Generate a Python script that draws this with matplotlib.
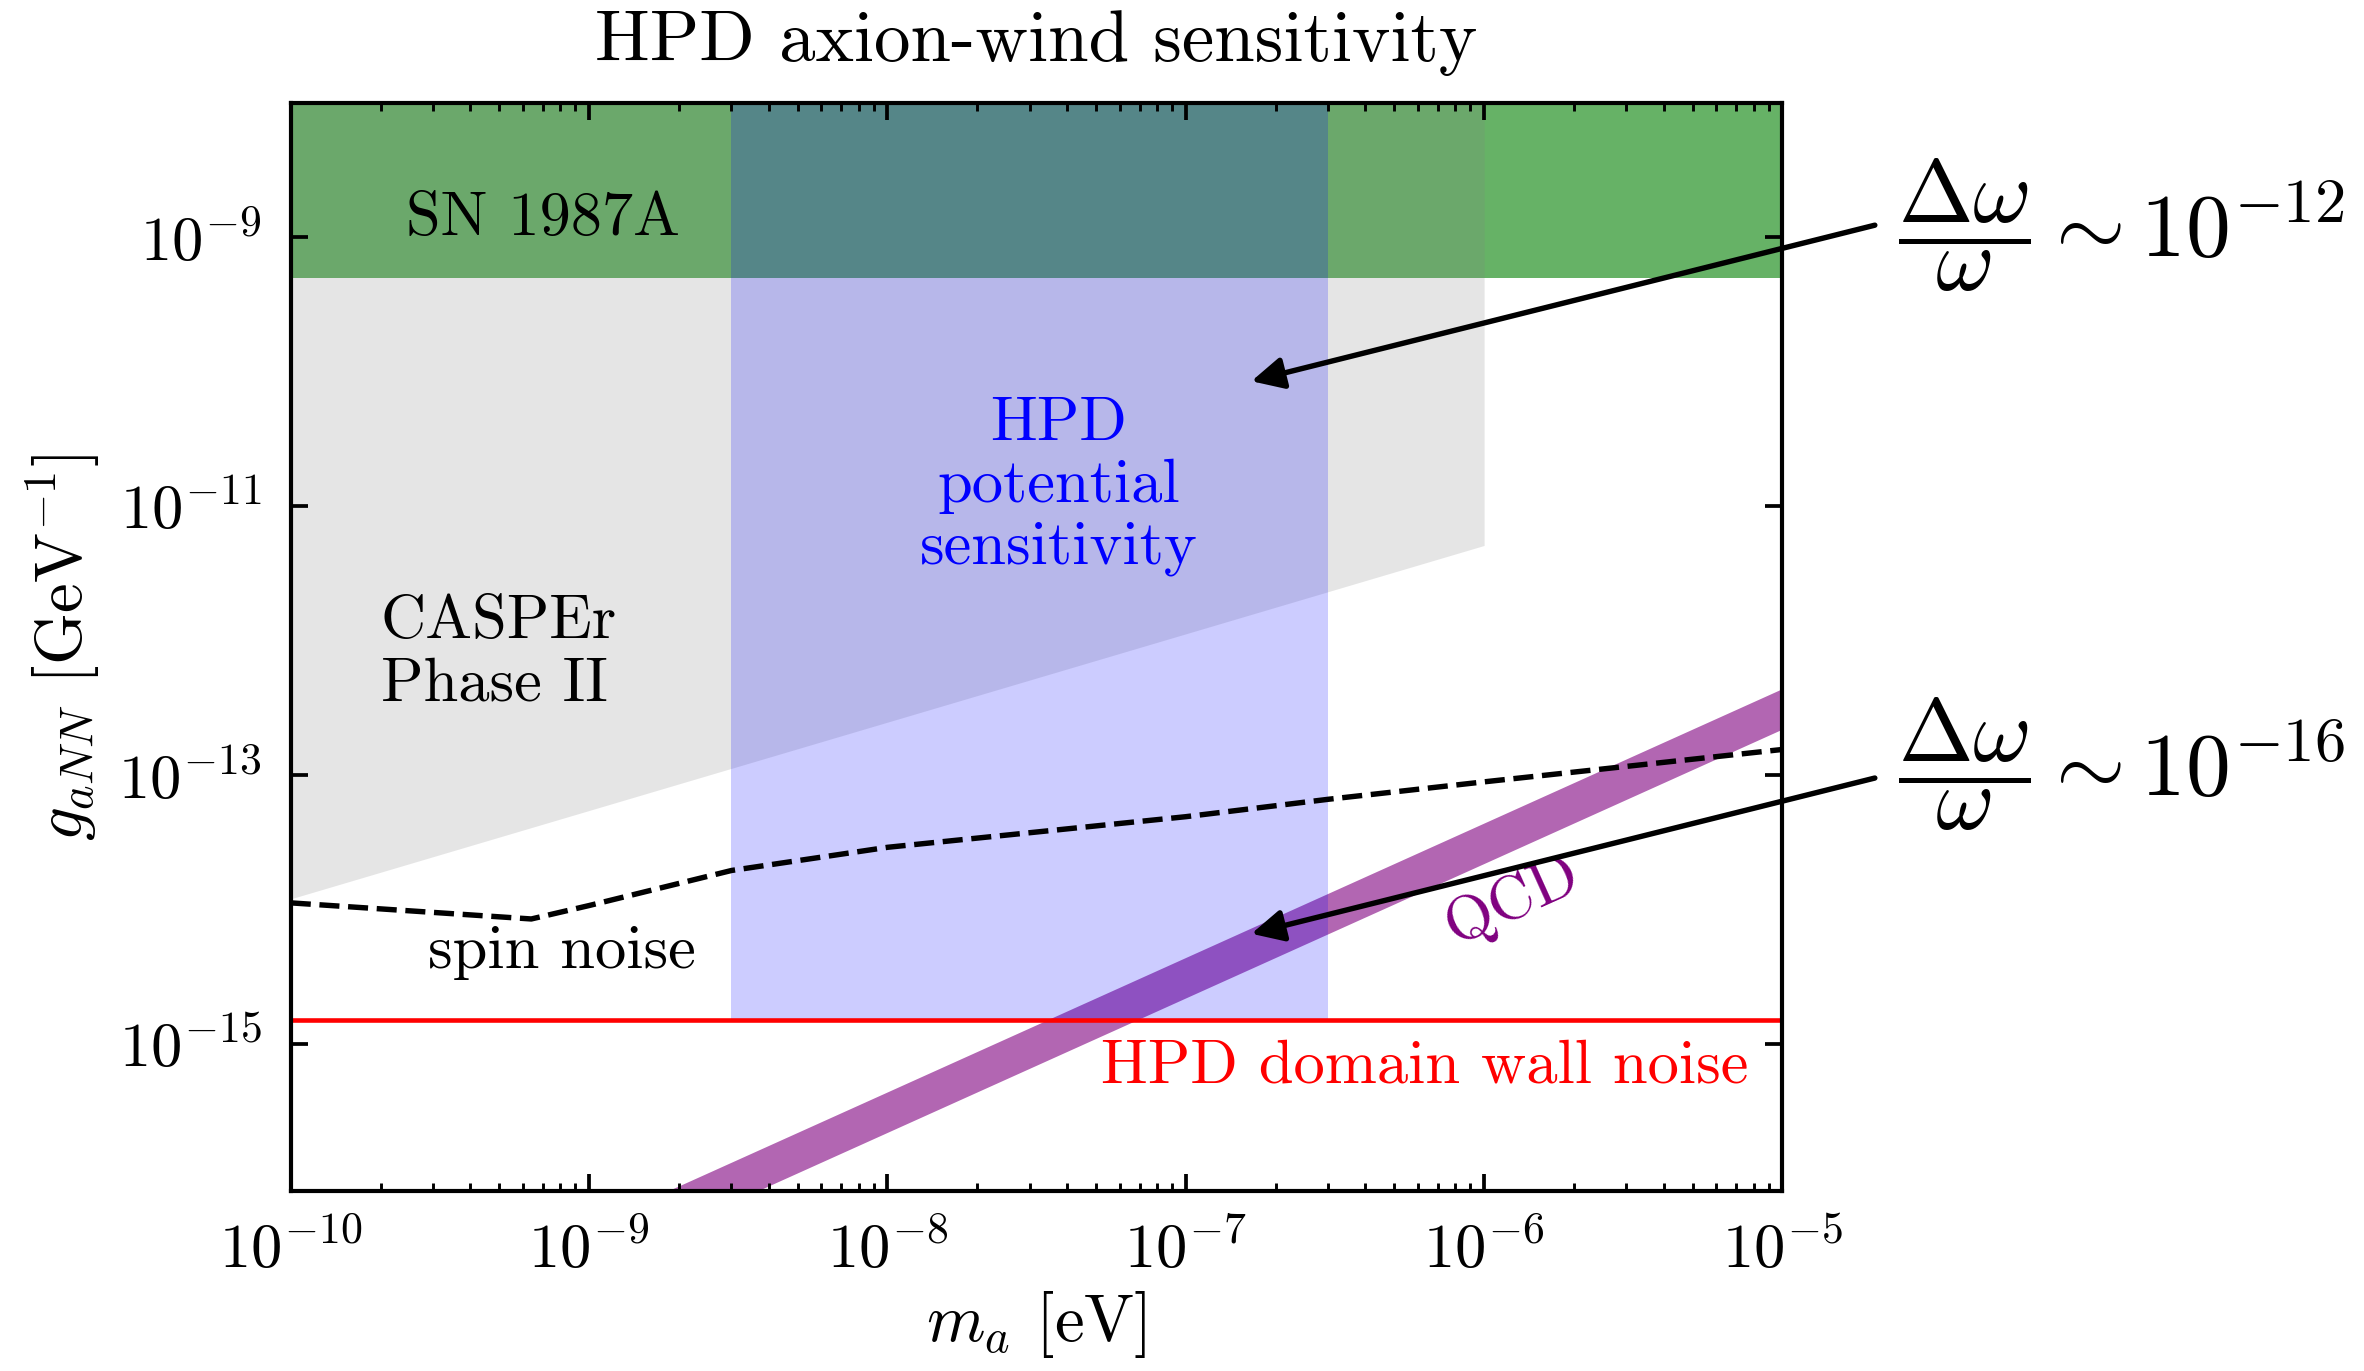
import numpy as np
import matplotlib
matplotlib.use('Agg')
import matplotlib.pyplot as plt
from matplotlib.ticker import FixedLocator, NullLocator, LogLocator

plt.rcParams['font.family'] = 'serif'
plt.rcParams['font.serif'] = ['cmr10']
plt.rcParams['mathtext.fontset'] = 'cm'
plt.rcParams['axes.unicode_minus'] = False
plt.rcParams['axes.formatter.use_mathtext'] = True

# axion mass range (eV) and coupling limits (GeV^-1)
m_min, m_max = 1e-10, 1e-5
g_min, g_max = 8e-17, 1e-8

sn_limit = 5e-10                        # SN 1987A bound
casper_mass = [1e-10, 1e-6]             # CASPEr Phase II reach
casper_low = [1.2e-14, 5.1e-12]
hpd_mass = [3e-9, 3e-7]                 # HPD mass window
hpd_floor = 1.5e-15                     # domain wall noise level
qcd_mass = [1e-10, 1e-5]                # QCD axion band
qcd_low = [2.2e-18, 2.2e-13]
qcd_high = [4.4e-18, 4.4e-13]
spin_mass = [1e-10, 6.4e-10, 1e-9, 3e-9, 1e-8, 1e-7, 3e-7, 1e-6, 1e-5]
spin_g = [1.12e-14, 8.5e-15, 1.07e-14, 1.95e-14, 2.9e-14, 4.9e-14, 6.6e-14, 8.9e-14, 1.55e-13]

fig = plt.figure(figsize=(7.88, 4.57), dpi=300)
ax = fig.add_axes([0.123, 0.131, 0.631, 0.794])
ax.set_xscale('log')
ax.set_yscale('log')
ax.set_xlim(m_min, m_max)
ax.set_ylim(g_min, g_max)

# exclusion / sensitivity regions
ax.fill_between([m_min, m_max], sn_limit, g_max, color='green', alpha=0.6, lw=0, zorder=1)
ax.fill_between(casper_mass, casper_low, g_max, color='gray', alpha=0.2, lw=0, zorder=2)
ax.fill_between(qcd_mass, qcd_low, qcd_high, color='purple', alpha=0.6, lw=0, zorder=3)
ax.fill_between(hpd_mass, hpd_floor, g_max, color='blue', alpha=0.2, lw=0, zorder=4)

ax.plot(spin_mass, spin_g, 'k--', lw=1.3, zorder=5)
ax.axhline(hpd_floor, color='red', lw=1.1, zorder=6)

# labels inside the plot
fs = 15
ax.text(7e-10, 1.36e-9, 'SN 1987A', fontsize=fs, ha='center', va='center', zorder=8)
ax.text(3.74e-8, 1.4e-11, 'HPD\npotential\nsensitivity', fontsize=fs, color='blue',
        ha='center', va='center', linespacing=1.15, zorder=8)
ax.text(2.0e-10, 8e-13, 'CASPEr\nPhase II', fontsize=fs, ha='left', va='center',
        linespacing=1.15, zorder=8)
ax.text(8.1e-10, 4.8e-15, 'spin noise', fontsize=fs, ha='center', va='center', zorder=8)
ax.text(7.7e-6, 6.8e-16, 'HPD domain wall noise', fontsize=fs, color='red',
        ha='right', va='center', zorder=8)

# rotate the QCD label along the band
p1 = ax.transData.transform((qcd_mass[0], qcd_high[0]))
p2 = ax.transData.transform((qcd_mass[1], qcd_high[1]))
angle = np.degrees(np.arctan2(p2[1] - p1[1], p2[0] - p1[0]))
ax.text(1.24e-6, 1.15e-14, 'QCD', fontsize=fs, color='purple', rotation=angle,
        rotation_mode='anchor', ha='center', va='center', zorder=8)

# arrows pointing to the frequency-shift levels
arrow = dict(arrowstyle='-|>', color='black', lw=1.3, mutation_scale=16, shrinkA=0, shrinkB=0)
ax.annotate('', xy=(1.66e-7, 8.5e-11), xytext=(2.04e-5, 1.23e-9),
            arrowprops=arrow, annotation_clip=False, zorder=9)
ax.annotate('', xy=(1.66e-7, 6.6e-15), xytext=(2.04e-5, 9.5e-14),
            arrowprops=arrow, annotation_clip=False, zorder=9)
fig.text(0.803, 0.836, r'$\dfrac{\Delta\omega}{\omega}\sim 10^{-12}$', fontsize=21.5,
         ha='left', va='center')
fig.text(0.803, 0.443, r'$\dfrac{\Delta\omega}{\omega}\sim 10^{-16}$', fontsize=21.5,
         ha='left', va='center')

# axes, ticks
ax.yaxis.set_major_locator(FixedLocator([1e-15, 1e-13, 1e-11, 1e-9]))
ax.yaxis.set_minor_locator(NullLocator())
ax.xaxis.set_major_locator(LogLocator(base=10, numticks=10))
ax.xaxis.set_minor_locator(LogLocator(base=10, subs=np.arange(2, 10), numticks=10))
ax.tick_params(which='both', direction='in', top=True, right=True, labelsize=15)
ax.tick_params(which='major', length=4, width=0.9, pad=7)
ax.tick_params(which='minor', length=2, width=0.7)
ax.xaxis.set_zorder(10)
ax.yaxis.set_zorder(10)
for s in ax.spines.values():
    s.set_linewidth(1.0)
    s.set_zorder(10)

ax.set_xlabel(r'$m_a$ [eV]', fontsize=16, labelpad=2)
ax.set_ylabel(r'$g_{aNN}$ [GeV$^{-1}$]', fontsize=16, labelpad=4)
ax.set_title('HPD axion-wind sensitivity', fontsize=17.5, pad=10)

fig.savefig('out.png', dpi=300)
